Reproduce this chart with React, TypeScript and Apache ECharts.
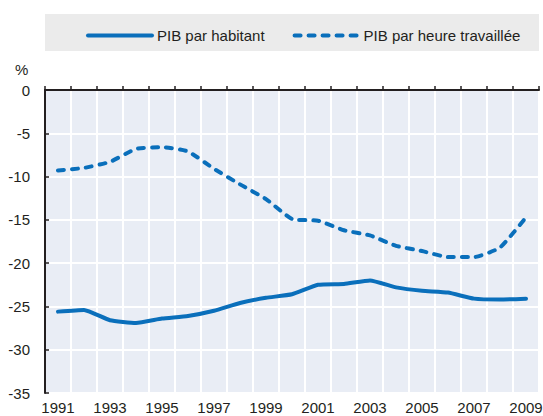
import React, { useEffect, useRef } from "react";
import * as echarts from "echarts";

const years = ["1991","1992","1993","1994","1995","1996","1997","1998","1999","2000","2001","2002","2003","2004","2005","2006","2007","2008","2009"];
const pibParHabitant = [-25.6,-25.4,-26.6,-26.9,-26.4,-26.1,-25.5,-24.6,-24.0,-23.6,-22.5,-22.4,-22.0,-22.8,-23.2,-23.4,-24.1,-24.2,-24.1];
const pibParHeure = [-9.3,-9.0,-8.3,-6.8,-6.6,-7.1,-9.1,-10.9,-12.6,-14.9,-15.1,-16.2,-16.8,-18.0,-18.6,-19.3,-19.3,-18.2,-14.7];
const seriesNames = ["PIB par habitant", "PIB par heure travaillée"];

const FONT = "'Liberation Sans', Arial, sans-serif";
const TEXT = "#231f20";
const BLUE = "#0a6fbb";
const FS = 15;

export default function App() {
  const ref = useRef<HTMLDivElement>(null);
  useEffect(() => {
    if (!ref.current) return;
    const chart = echarts.init(ref.current, undefined, { renderer: "svg" });
    chart.setOption({
      animation: false,
      textStyle: { fontFamily: FONT, color: TEXT },
      graphic: [
        { type: "rect", left: 45, top: 14, shape: { width: 494, height: 37 }, style: { fill: "#ebebeb" }, z: -10 },
        { type: "text", left: 15, top: 62, style: { text: "%", font: `${FS}px ${FONT}`, fill: TEXT } },
      ],
      legend: {
        orient: "horizontal",
        left: 81,
        top: 23,
        width: 460,
        itemWidth: 64,
        itemHeight: 16,
        itemGap: 28,
        data: seriesNames,
        itemStyle: { opacity: 0 },
        lineStyle: { width: 4, cap: "round" },
        textStyle: { fontFamily: FONT, fontSize: FS, color: TEXT },
      },
      grid: { left: 45, right: 4, top: 90, bottom: 23, show: true, backgroundColor: "#e9edf5", borderWidth: 0, outerBoundsMode: "none" },
      xAxis: {
        type: "category",
        data: years,
        boundaryGap: true,
        axisLine: { show: true, lineStyle: { color: TEXT, width: 2 } },
        axisTick: { show: true, inside: true, length: 4, interval: 0, lineStyle: { color: TEXT, width: 1.5 } },
        axisLabel: { interval: 1, fontSize: FS, color: TEXT, fontFamily: FONT, margin: 7 },
        splitLine: { show: true, interval: 0, lineStyle: { color: "#ffffff", width: 2 } },
      },
      yAxis: {
        type: "value",
        min: -35,
        max: 0,
        interval: 5,
        axisLine: { show: true, lineStyle: { color: TEXT, width: 2 } },
        axisTick: { show: true, inside: true, length: 4, lineStyle: { color: TEXT, width: 1.5 } },
        axisLabel: { fontSize: FS, color: TEXT, fontFamily: FONT, margin: 15 },
        splitLine: { show: true, lineStyle: { color: "#ffffff", width: 2 } },
      },
      series: [
        {
          name: seriesNames[0],
          type: "line",
          data: pibParHabitant,
          symbol: "none",
          smooth: 0.15,
          lineStyle: { color: BLUE, width: 4, cap: "round", join: "round" },
          itemStyle: { color: BLUE },
        },
        {
          name: seriesNames[1],
          type: "line",
          data: pibParHeure,
          symbol: "none",
          smooth: 0.15,
          lineStyle: { color: BLUE, width: 4, type: [6, 8], cap: "round", join: "round" },
          itemStyle: { color: BLUE },
        },
      ],
    });
    return () => chart.dispose();
  }, []);
  return <div ref={ref} style={{ position: "absolute", left: 0, top: 0, width: 543, height: 416 }} />;
}
